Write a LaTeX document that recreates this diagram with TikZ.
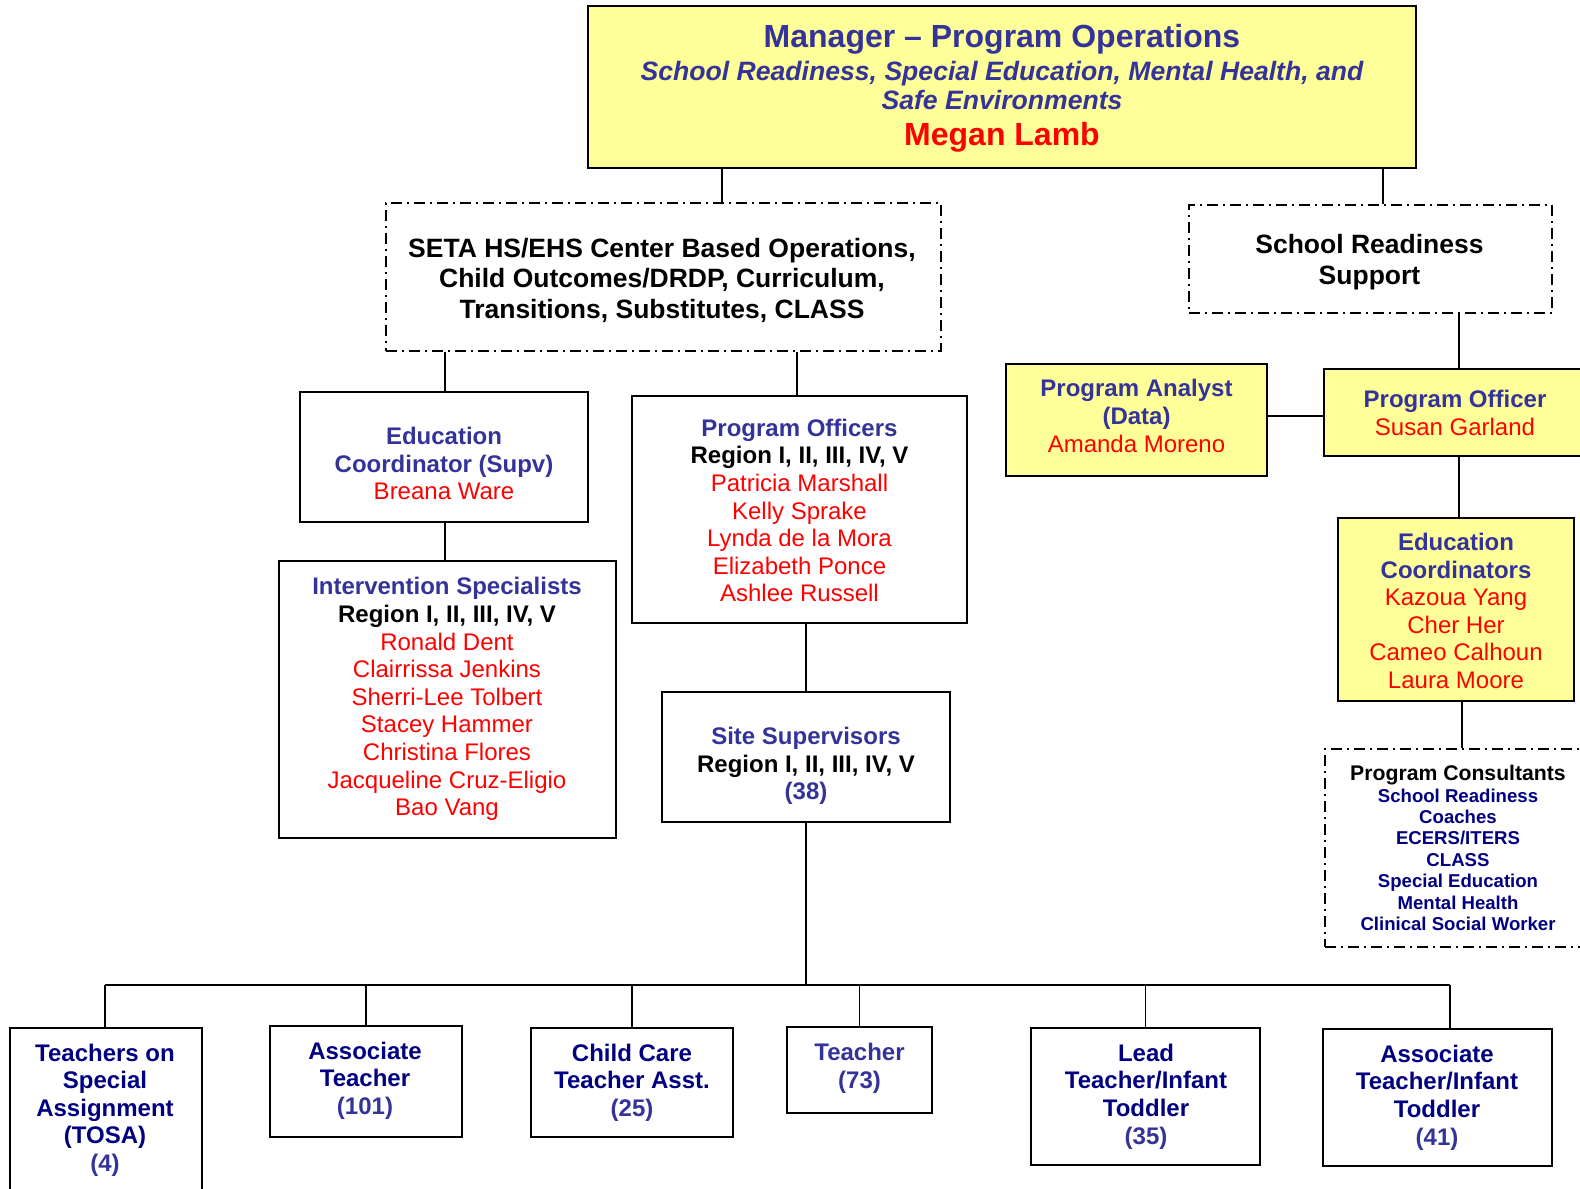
\documentclass[tikz,border=0pt]{standalone}
\usepackage{fontspec}
\setmainfont{Liberation Sans}
\definecolor{tblue}{HTML}{333399}
\definecolor{navy}{HTML}{000080}
\definecolor{nred}{HTML}{FF0000}
\definecolor{lyel}{HTML}{FFFF99}
\begin{document}
\begin{tikzpicture}[x=1pt,y=-1pt,
  box/.style={draw, line width=2pt, inner sep=0pt},
  dbox/.style={draw, line width=1.6pt, dash pattern=on 11pt off 5pt on 2pt off 5pt, inner sep=0pt},
  yel/.style={fill=lyel},
  conn/.style={line width=1.6pt},
  txt/.style={align=center, inner sep=0pt, font=\fontsize{24}{27.6}\selectfont},
  bot/.style={align=center, inner sep=0pt, font=\fontsize{24}{27.6}\selectfont\bfseries, text=navy},
  sz/.style 2 args={minimum width=#1, minimum height=#2}
]
\useasboundingbox (0,0) rectangle (1580,1189);

% ---------- top ----------
\node[box, yel, line width=2.5pt, sz={828pt}{162pt}] (top) at (1002,87) {};
\node[inner sep=0pt, font=\fontsize{32}{36}\selectfont\bfseries, text=tblue] (topT1) at (1002,39) {Manager – Program Operations};
\node[inner sep=0pt, align=center, font=\fontsize{26.6}{29.3}\selectfont\bfseries\itshape, text=tblue] (topT2) at (1002,85.5) {School Readiness, Special Education, Mental Health, and\\Safe Environments};
\node[inner sep=0pt, font=\fontsize{32}{36}\selectfont\bfseries, text=nred] (topT3) at (1002,137) {Megan Lamb};

% ---------- second level ----------
\node[dbox, sz={555pt}{148pt}] (seta) at (663.5,277) {};
\node[txt, font=\fontsize{26.5}{30.5}\selectfont\bfseries] (setaT) at (662,280) {SETA HS/EHS Center Based Operations,\\Child Outcomes/DRDP, Curriculum,\\Transitions, Substitutes, CLASS};

\node[dbox, sz={363pt}{108pt}] (srs) at (1370.5,259) {};
\node[txt, font=\fontsize{26.5}{30.5}\selectfont\bfseries] (srsT) at (1369.5,262) {School Readiness\\Support};

% ---------- right branch ----------
\node[box, yel, sz={261pt}{112pt}] (pa) at (1136.5,420) {};
\node[txt] (paT) at (1136.5,416) {\textcolor{tblue}{\textbf{Program Analyst}}\\\textcolor{tblue}{\textbf{(Data)}}\\\textcolor{nred}{Amanda Moreno}};

\node[box, yel, sz={262pt}{87pt}] (po) at (1455,412.5) {};
\node[txt] (poT) at (1455,413) {\textcolor{tblue}{\textbf{Program Officer}}\\\textcolor{nred}{Susan Garland}};

\node[box, yel, sz={236pt}{183pt}] (ec) at (1456,609.5) {};
\node[txt] (ecT) at (1456,611) {\textcolor{tblue}{\textbf{Education}}\\\textcolor{tblue}{\textbf{Coordinators}}\\\textcolor{nred}{Kazoua Yang}\\\textcolor{nred}{Cher Her}\\\textcolor{nred}{Cameo Calhoun}\\\textcolor{nred}{Laura Moore}};

\node[dbox, sz={266pt}{198pt}] (pc) at (1458,848) {};
\node[txt, font=\fontsize{18.6}{21.4}\selectfont\bfseries, text=navy] (pcT) at (1458,848) {\textcolor{black}{\fontsize{21.2}{21.4}\selectfont Program Consultants}\\School Readiness\\Coaches\\ECERS/ITERS\\CLASS\\Special Education\\Mental Health\\Clinical Social Worker};

% ---------- left branch ----------
\node[box, sz={288pt}{130pt}] (ecs) at (444,457) {};
\node[txt] (ecsT) at (444,463.5) {\textcolor{tblue}{\textbf{Education}}\\\textcolor{tblue}{\textbf{Coordinator (Supv)}}\\\textcolor{nred}{Breana Ware}};

\node[box, sz={337pt}{277pt}] (is) at (447.5,699.5) {};
\node[txt] (isT) at (447,699) {\textcolor{tblue}{\textbf{Intervention Specialists}}\\\textbf{Region I, II, III, IV, V}\\\textcolor{nred}{Ronald Dent}\\\textcolor{nred}{Clairrissa Jenkins}\\\textcolor{nred}{Sherri-Lee Tolbert}\\\textcolor{nred}{Stacey Hammer}\\\textcolor{nred}{Christina Flores}\\\textcolor{nred}{Jacqueline Cruz-Eligio}\\\textcolor{nred}{Bao Vang}};

\node[box, sz={335pt}{227pt}] (pos) at (799.5,509.5) {};
\node[txt] (posT) at (799.5,510.5) {\textcolor{tblue}{\textbf{Program Officers}}\\\textbf{Region I, II, III, IV, V}\\\textcolor{nred}{Patricia Marshall}\\\textcolor{nred}{Kelly Sprake}\\\textcolor{nred}{Lynda de la Mora}\\\textcolor{nred}{Elizabeth Ponce}\\\textcolor{nred}{Ashlee Russell}};

\node[box, sz={288pt}{130pt}] (ss) at (806,757) {};
\node[txt] (ssT) at (806,766) {\textcolor{tblue}{\textbf{Site Supervisors}}\\\textbf{Region I, II, III, IV, V}\\\textcolor{tblue}{\textbf{(38)}}};

% ---------- bottom row ----------
\node[box, sz={192pt}{172pt}] (tosa) at (106,1114) {};
\node[bot] (tosaT) at (105,1110) {Teachers on\\Special\\Assignment\\(TOSA)\\\textcolor{tblue}{(4)}};

\node[box, sz={192pt}{111pt}] (at) at (366,1081.5) {};
\node[bot] (atT) at (365,1080.5) {Associate\\Teacher\\\textcolor{tblue}{(101)}};

\node[box, sz={202pt}{109pt}] (cc) at (632,1082.5) {};
\node[bot] (ccT) at (632,1082.5) {Child Care\\Teacher Asst.\\\textcolor{tblue}{(25)}};

\node[box, sz={145pt}{86pt}] (te) at (859.5,1070) {};
\node[bot, text=tblue] (teT) at (859.5,1068) {Teacher\\(73)};

\node[box, sz={229pt}{137pt}] (lt) at (1145.5,1096.5) {};
\node[bot] (ltT) at (1146,1096.5) {Lead\\Teacher/Infant\\Toddler\\\textcolor{tblue}{(35)}};

\node[box, sz={229pt}{137pt}] (ait) at (1437.5,1097.5) {};
\node[bot] (aitT) at (1437,1097.5) {Associate\\Teacher/Infant\\Toddler\\\textcolor{tblue}{(41)}};

% ---------- connectors ----------
\coordinate (xa) at (722,0);
\coordinate (xb) at (1383,0);
\coordinate (xc) at (445,0);
\coordinate (xd) at (797,0);
\coordinate (xe) at (806,0);
\coordinate (xf) at (1459,0);
\coordinate (xg) at (1462,0);
\coordinate (yh) at (0,416);
\coordinate (busL) at (105,985);
\coordinate (busR) at (1450,985);

\draw[conn] (top.south -| xa) -- (seta.north -| xa);
\draw[conn] (top.south -| xb) -- (srs.north -| xb);
\draw[conn] (seta.south -| xc) -- (ecs.north -| xc);
\draw[conn] (seta.south -| xd) -- (pos.north -| xd);
\draw[conn] (ecs.south -| xc) -- (is.north -| xc);
\draw[conn] (pos.south -| xe) -- (ss.north -| xe);
\draw[conn] (srs.south -| xf) -- (po.north -| xf);
\draw[conn] (pa.east |- yh) -- (po.west |- yh);
\draw[conn] (po.south -| xf) -- (ec.north -| xf);
\draw[conn] (ec.south -| xg) -- (pc.north -| xg);

\draw[conn] (busL) -- (busR);
\draw[conn] (ss.south -| xe) -- (busL -| xe);
\draw[conn] (busL) -- (tosa.north -| busL);
\draw[conn] (at.north) -- (at.north |- busL);
\draw[conn] (cc.north) -- (cc.north |- busL);
\draw[conn] (te.north) -- (te.north |- busL);
\draw[conn] (lt.north) -- (lt.north |- busL);
\draw[conn] (busR) -- (ait.north -| busR);
\end{tikzpicture}
\end{document}
